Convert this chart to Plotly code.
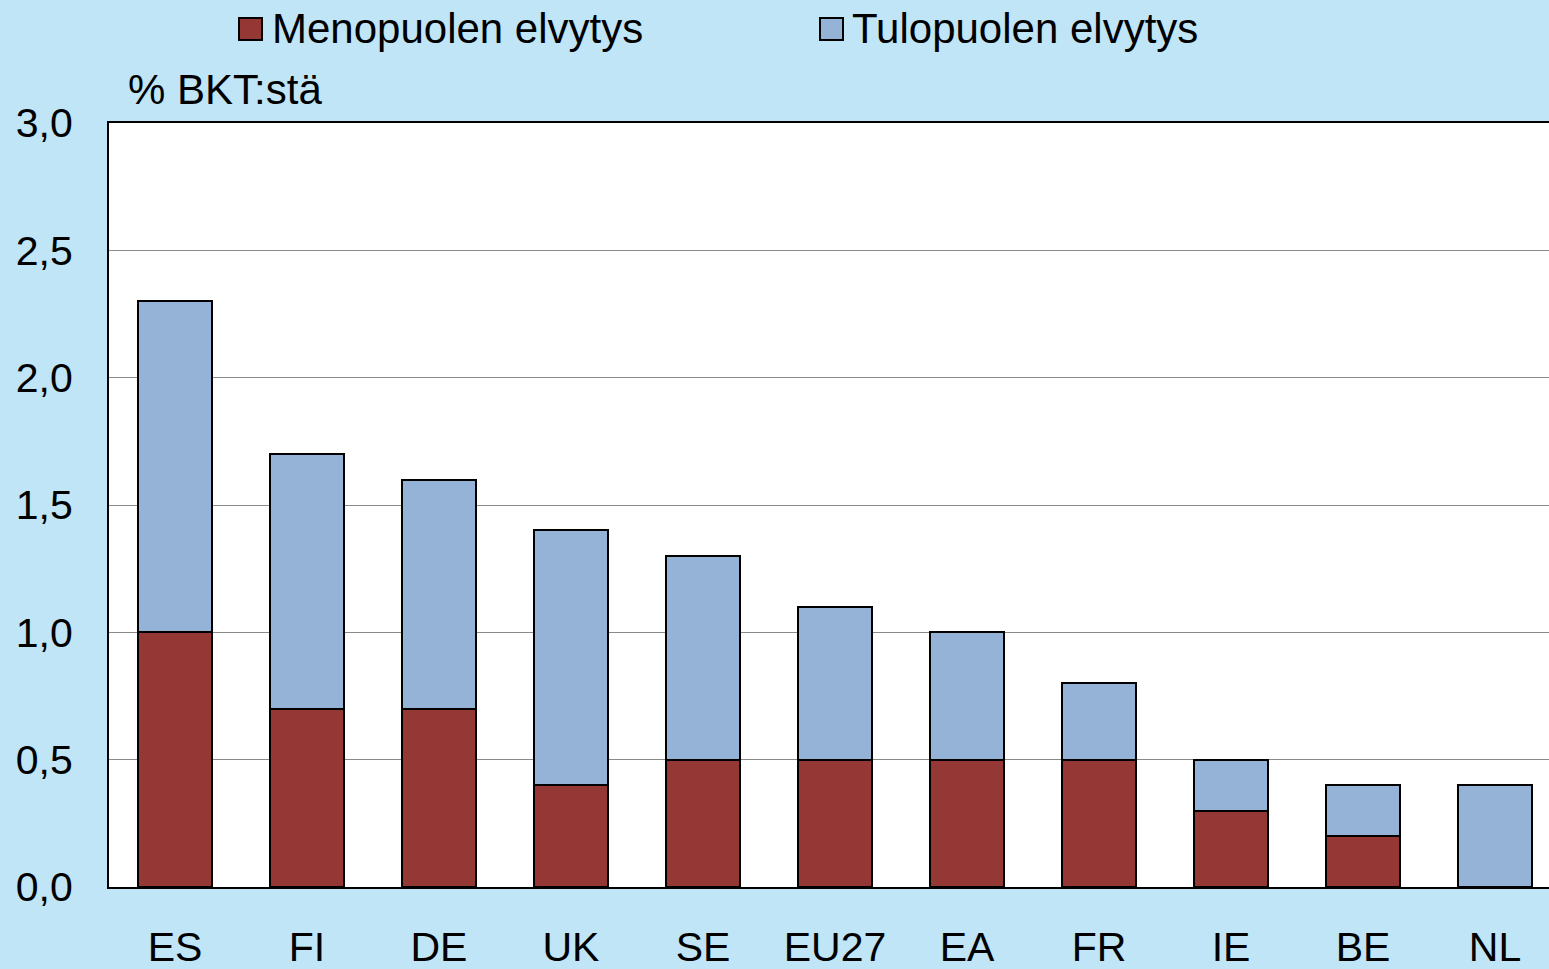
import plotly.graph_objects as go

categories = ["ES", "FI", "DE", "UK", "SE", "EU27", "EA", "FR", "IE", "BE", "NL"]
spending = [1.0, 0.7, 0.7, 0.4, 0.5, 0.5, 0.5, 0.5, 0.3, 0.2, 0.0]
revenue = [1.3, 1.0, 0.9, 1.0, 0.8, 0.6, 0.5, 0.3, 0.2, 0.2, 0.4]
series_names = ["Menopuolen elvytys", "Tulopuolen elvytys"]
y_ticks = [0.0, 0.5, 1.0, 1.5, 2.0, 2.5, 3.0]
y_tick_labels = ["0,0", "0,5", "1,0", "1,5", "2,0", "2,5", "3,0"]
unit_label = "% BKT:stä"

RED = "#953735"
BLUE = "#95B3D7"
FONT = "Liberation Sans, Arial, sans-serif"

W, H = 1549, 969
L, R, T, B = 109, 0, 123, 82
PW, PH = W - L - R, H - T - B


def px(x):
    return (x - L) / PW


def py(y):
    return (H - B - y) / PH


fig = go.Figure()
fig.add_trace(go.Bar(x=categories, y=spending, name=series_names[0],
                     marker=dict(color=RED, line=dict(color="black", width=2)),
                     width=0.56))
fig.add_trace(go.Bar(x=categories, y=revenue, name=series_names[1],
                     marker=dict(color=BLUE, line=dict(color="black", width=2)),
                     width=0.56))

ncat_visible = PW / 132.0
fig.update_layout(
    width=W, height=H,
    barmode="stack",
    showlegend=False,
    paper_bgcolor="#BFE5F6",
    plot_bgcolor="white",
    margin=dict(l=L, r=R, t=T, b=B, pad=0),
    font=dict(family=FONT, size=42, color="black"),
    xaxis=dict(range=[-0.5, -0.5 + ncat_visible], showgrid=False,
               showline=True, linecolor="black", linewidth=2, mirror=True,
               ticks="", ticklabelstandoff=23, automargin=False,
               tickfont=dict(size=41)),
    yaxis=dict(range=[0, 3.0], tickvals=y_ticks, ticktext=y_tick_labels,
               showgrid=True, gridcolor="#8a8a8a", gridwidth=1,
               showline=True, linecolor="black", linewidth=2, mirror=True,
               zeroline=False, ticks="", ticklabelstandoff=26, automargin=False,
               tickfont=dict(size=41)),
)

# legend drawn manually
leg = [(239, 262, 270, RED, series_names[0]), (820, 843, 850, BLUE, series_names[1])]
for x0, x1, xt, col, name in leg:
    fig.add_shape(type="rect", xref="paper", yref="paper",
                  x0=px(x0), x1=px(x1), y0=py(40), y1=py(18),
                  fillcolor=col, line=dict(color="black", width=2))
    fig.add_annotation(xref="paper", yref="paper", x=px(xt), y=py(29),
                       xanchor="left", yanchor="middle", showarrow=False,
                       text=name, font=dict(size=42), xshift=0)

fig.add_annotation(xref="paper", yref="paper", x=px(126), y=py(90),
                   xanchor="left", yanchor="middle", showarrow=False,
                   text=unit_label, font=dict(size=42))

fig.write_html("out.html", config={"displayModeBar": False},
               post_script="document.body.style.margin='0';document.body.style.overflow='hidden';")
